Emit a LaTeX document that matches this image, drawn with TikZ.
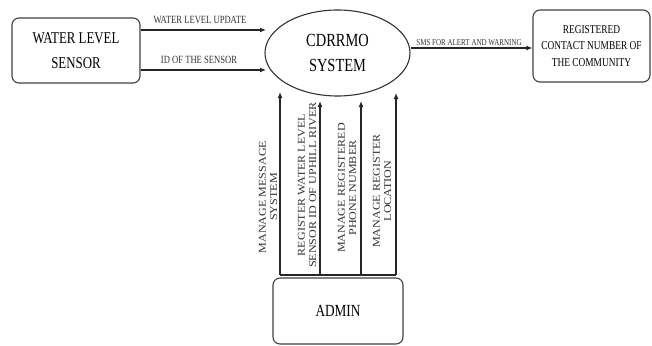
\documentclass[tikz,border=0pt]{standalone}
\usepackage{fontspec}
\setmainfont{Liberation Serif}[FakeStretch=0.78]
\newfontfamily\vfont{Liberation Serif}[FakeStretch=1.15]
\usetikzlibrary{shapes.geometric,arrows.meta}
\tikzset{
  ent/.style={draw=black!75, line width=1.1pt, rounded corners=7pt, align=center, inner sep=0pt},
  flow/.style={draw=black!85, line width=1.2pt, -{Latex[length=6pt,width=5pt]}},
  flabel/.style={font=\fontsize{11}{12}\selectfont, inner sep=0pt, text=black!80},
  vlabel/.style={font=\vfont\fontsize{10.5}{11.2}\selectfont, rotate=90, align=center, inner sep=0pt, text=black!80}
}
\begin{document}
\begin{tikzpicture}[x=1pt,y=-1pt]
\useasboundingbox (0,0) rectangle (652,345);
% entities
\node[ent, minimum width=128pt, minimum height=65pt, font=\fontsize{16.5}{25}\selectfont] (sensor) at (76,50.5) {WATER LEVEL\\SENSOR};
\node[draw=black!80, line width=1.1pt, ellipse, minimum width=145pt, minimum height=86pt, inner sep=0pt, align=center, font=\fontsize{18.5}{25}\selectfont] (sys) at (337.5,53) {CDRRMO\\SYSTEM};
\node[ent, minimum width=117pt, minimum height=72pt, font=\fontsize{12}{16.5}\selectfont] (contact) at (591.5,46) {REGISTERED\\CONTACT NUMBER OF\\THE COMMUNITY};
\node[ent, minimum width=130pt, minimum height=66pt, font=\fontsize{17}{20}\selectfont] (admin) at (338,311) {ADMIN};
% sensor flows
\coordinate (u1) at (266,30);
\coordinate (u2) at (266,70);
\draw[flow] (sensor.east |- u1) -- (u1);
\draw[flow] (sensor.east |- u2) -- (u2);
\node[flabel] (lu1) at (200,20) {WATER LEVEL UPDATE};
\node[flabel] (lu2) at (199,60) {ID OF THE SENSOR};
% sms flow
\coordinate (e1) at (410.5,48);
\draw[flow] (e1) -- (contact.west |- e1);
\node[font=\fontsize{9}{10}\selectfont, inner sep=0pt, text=black!80, anchor=south] (lsms) at (469,46) {SMS FOR ALERT AND WARNING};
% admin bar and arrows
\coordinate (b0) at (280,275);
\coordinate (b1) at (396,275);
\draw[draw=black!85, line width=1.2pt] (b0) -- (b1);
\coordinate (t1) at (280,92);
\coordinate (t2) at (320,101);
\coordinate (t3) at (361,101);
\coordinate (t4) at (396,93);
\draw[flow] (b0) -- (t1);
\draw[flow] (t2 |- b0) -- (t2);
\draw[flow] (t3 |- b0) -- (t3);
\draw[flow] (b1) -- (t4);
% vertical labels
\node[vlabel] (v1) at (268,197) {MANAGE MESSAGE\\SYSTEM};
\node[vlabel] (v2) at (307,185) {REGISTER WATER LEVEL\\SENSOR ID OF UPHILL RIVER};
\node[vlabel] (v3) at (347,188) {MANAGE REGISTERED\\PHONE NUMBER};
\node[vlabel] (v4) at (382,191) {MANAGE REGISTER\\LOCATION};
\end{tikzpicture}
\end{document}
